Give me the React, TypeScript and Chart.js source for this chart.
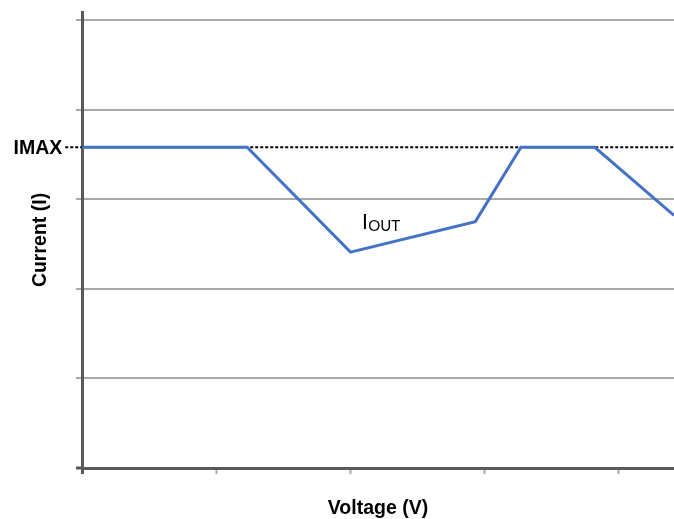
import React, { useEffect, useRef } from "react";
import { Chart, registerables } from "chart.js";

Chart.register(...registerables);

// ---- data ----
const voltage = [0, 1.23, 2.0, 2.93, 3.27, 3.82, 4.41];
const current = [3.58, 3.58, 2.41, 2.75, 3.58, 3.58, 2.82];
const imaxValue = 3.58;
const imaxLineX = [-0.125, 4.41];
const xTickValues = [0, 1, 2, 3, 4];
const yTickValues = [0, 1, 2, 3, 4, 5];
const xTitle = "Voltage (V)";
const yTitle = "Current (I)";
const imaxLabel = "IMAX";
const ioutMain = "I";
const ioutSub = "OUT";

const AXIS = "#595959";
const GRID = "#a9a9a9";
const BLUE = "#4472C4";
const TITLE_FONT = { family: "'Liberation Sans', Arial, sans-serif", size: 19.5, weight: "bold" };

const labelPlugin = {
  id: "labels",
  afterDatasetsDraw(chart: any) {
    const { ctx, scales } = chart;
    const xs = scales.x;
    const ys = scales.y;
    ctx.save();
    // IMAX label
    ctx.fillStyle = "#000";
    ctx.font = "bold 19.5px 'Liberation Sans', Arial, sans-serif";
    ctx.textAlign = "right";
    ctx.textBaseline = "middle";
    ctx.fillText(imaxLabel, xs.getPixelForValue(imaxLineX[0]) - 3, ys.getPixelForValue(imaxValue) + 1);
    // IOUT label
    const px = xs.getPixelForValue(2.085);
    const py = ys.getPixelForValue(2.67);
    ctx.textAlign = "left";
    ctx.textBaseline = "alphabetic";
    ctx.font = "21px Lato, 'Open Sans', sans-serif";
    ctx.fillText(ioutMain, px, py);
    const w = ctx.measureText(ioutMain).width;
    ctx.font = "15px Lato, 'Open Sans', sans-serif";
    ctx.fillText(ioutSub, px + w + 0.5, py + 2.5);
    ctx.restore();
  },
};

export default function App() {
  const ref = useRef<HTMLCanvasElement>(null);
  useEffect(() => {
    if (!ref.current) return;
    const chart = new Chart(ref.current, {
      type: "line",
      data: {
        datasets: [
          {
            data: voltage.map((v, i) => ({ x: v, y: current[i] })),
            borderColor: BLUE,
            borderWidth: 3,
            pointRadius: 0,
            tension: 0,
            fill: false,
            order: 0,
          },
          {
            data: imaxLineX.map((v) => ({ x: v, y: imaxValue })),
            borderColor: "#000",
            borderWidth: 2,
            borderDash: [3, 2],
            pointRadius: 0,
            fill: false,
            clip: false as any,
            order: 1,
          },
        ],
      },
      options: {
        animation: false,
        responsive: false,
        layout: { padding: { left: 0, right: 0, top: 12, bottom: 0 } },
        plugins: { legend: { display: false }, tooltip: { enabled: false } },
        scales: {
          x: {
            type: "linear",
            min: 0,
            max: 4.41,
            afterBuildTicks: (axis: any) => {
              axis.ticks = xTickValues.map((v) => ({ value: v }));
            },
            ticks: { display: false },
            grid: {
              drawOnChartArea: false,
              drawTicks: true,
              tickLength: 6,
              tickColor: (c: any) => (c.tick && c.tick.value === 0 ? AXIS : GRID),
              tickWidth: (c: any) => (c.tick && c.tick.value === 0 ? 3 : 2),
            },
            border: { display: true, color: AXIS, width: 3 },
            title: {
              display: true,
              text: xTitle,
              color: "#000",
              font: TITLE_FONT,
              padding: { top: 22.6, bottom: -1 },
            },
          },
          y: {
            type: "linear",
            min: 0,
            max: 5.09,
            afterBuildTicks: (axis: any) => {
              axis.ticks = yTickValues.map((v) => ({ value: v }));
            },
            ticks: { display: false },
            grid: {
              drawOnChartArea: true,
              drawTicks: true,
              tickLength: 6,
              color: GRID,
              lineWidth: 2,
              tickColor: (c: any) => (c.tick && c.tick.value === 0 ? AXIS : GRID),
              tickWidth: (c: any) => (c.tick && c.tick.value === 0 ? 3 : 2),
            },
            border: { display: true, color: AXIS, width: 3 },
            title: {
              display: true,
              text: yTitle,
              color: "#000",
              font: TITLE_FONT,
              padding: { top: 29, bottom: 23.6 },
            },
          },
        },
      } as any,
      plugins: [labelPlugin],
    });
    return () => chart.destroy();
  }, []);
  return (
    <div style={{ position: "fixed", left: 0, top: 0, width: 674, height: 519, background: "#fff" }}>
      <canvas ref={ref} width={674} height={519} style={{ display: "block" }} />
    </div>
  );
}
